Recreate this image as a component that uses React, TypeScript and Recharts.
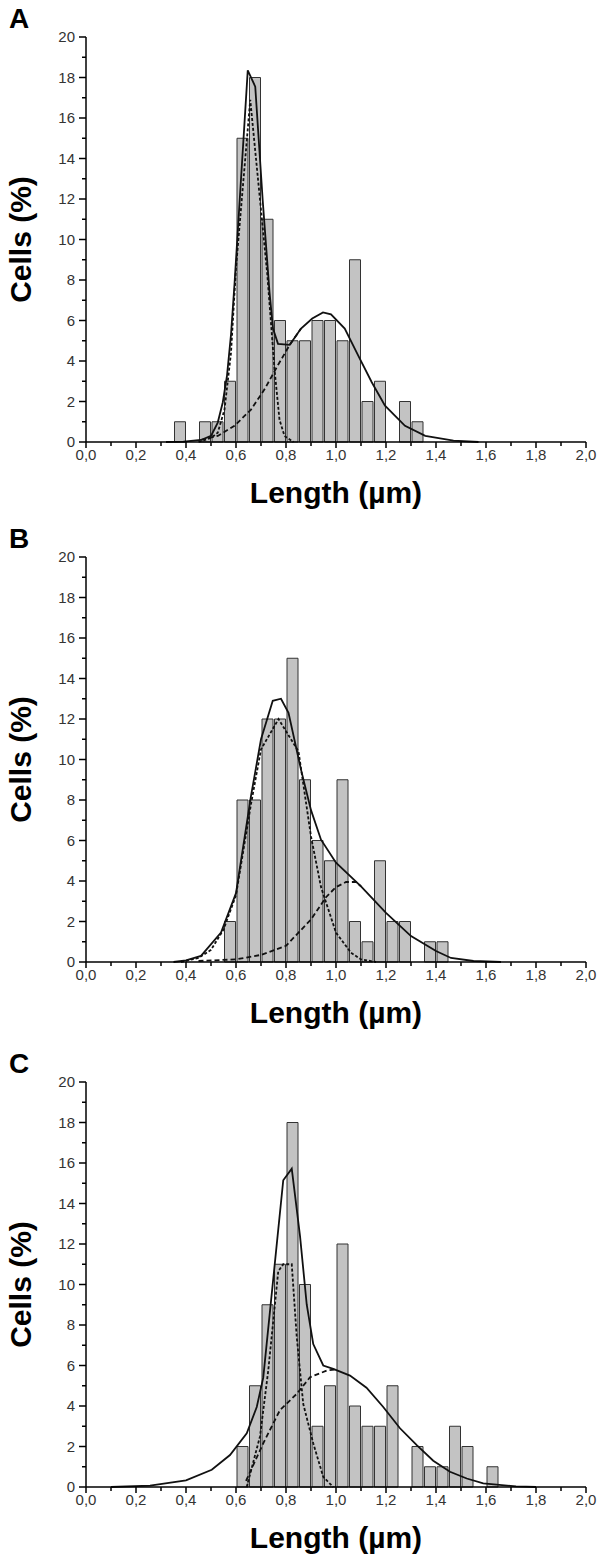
import { Bar, ComposedChart, Line, XAxis, YAxis } from "recharts"

const FONT = "'Liberation Sans', Arial, sans-serif"

const xTicks = [0, 0.1, 0.2, 0.3, 0.4, 0.5, 0.6, 0.7, 0.8, 0.9, 1, 1.1, 1.2, 1.3, 1.4, 1.5, 1.6, 1.7, 1.8, 1.9, 2]
const yTicks = [0, 1, 2, 3, 4, 5, 6, 7, 8, 9, 10, 11, 12, 13, 14, 15, 16, 17, 18, 19, 20]

// Panel A
const aBins = [0.375, 0.475, 0.525, 0.575, 0.625, 0.675, 0.725, 0.775, 0.825, 0.875, 0.925, 0.975, 1.025, 1.075, 1.125, 1.175, 1.275, 1.325]
const aCells = [1, 1, 1, 3, 15, 18, 11, 6, 5, 5, 6, 6, 5, 9, 2, 3, 2, 1]
const aFitX = [0.32, 0.39, 0.46, 0.5, 0.527, 0.547, 0.564, 0.58, 0.594, 0.647, 0.677, 0.707, 0.734, 0.748, 0.768, 0.815, 0.86, 0.905, 0.948, 0.98, 1.035, 1.089, 1.143, 1.196, 1.276, 1.357, 1.47, 1.57]
const aFit = [0, 0.02, 0.1, 0.3, 0.96, 1.95, 3.28, 5.3, 7.8, 18.35, 17.55, 11.9, 7.4, 5.6, 4.85, 4.8, 5.6, 6.1, 6.4, 6.3, 5.6, 4.27, 2.95, 1.79, 0.8, 0.3, 0.07, 0]
const aNarrowX = [0.45, 0.5, 0.527, 0.554, 0.58, 0.6, 0.657, 0.725, 0.754, 0.774, 0.794, 0.83]
const aNarrow = [0, 0.2, 0.46, 1.6, 4.4, 8.6, 16.9, 8.3, 3.6, 1.1, 0.3, 0]
const aWideX = [0.46, 0.527, 0.594, 0.66, 0.714, 0.768, 0.815, 0.86]
const aWide = [0.1, 0.3, 0.8, 1.6, 2.6, 3.8, 4.8, 5.6]

// Panel B
const bBins = [0.575, 0.625, 0.675, 0.725, 0.775, 0.825, 0.875, 0.925, 0.975, 1.025, 1.075, 1.125, 1.175, 1.225, 1.275, 1.375, 1.425]
const bCells = [2, 8, 8, 12, 12, 15, 9, 6, 5, 9, 2, 1, 5, 2, 2, 1, 1]
const bFitX = [0.35, 0.4, 0.46, 0.54, 0.6, 0.66, 0.7, 0.747, 0.78, 0.81, 0.86, 0.9, 0.94, 1.0, 1.1, 1.2, 1.3, 1.4, 1.46, 1.55, 1.66]
const bFit = [0, 0.08, 0.3, 1.45, 3.4, 8.2, 11.0, 12.9, 13.0, 12.3, 9.5, 7.5, 6.04, 4.9, 3.74, 2.43, 1.28, 0.54, 0.2, 0.05, 0]
const bNarrowX = [0.38, 0.45, 0.5, 0.55, 0.6, 0.66, 0.7, 0.77, 0.85, 0.9, 0.94, 1.0, 1.06, 1.1, 1.16]
const bNarrow = [0, 0.2, 0.6, 1.6, 3.3, 7.8, 10.5, 12.0, 10.4, 6.2, 3.7, 1.45, 0.46, 0.13, 0]
const bWideX = [0.45, 0.6, 0.7, 0.8, 0.9, 0.96, 1.0, 1.04, 1.08, 1.1]
const bWide = [0.05, 0.13, 0.35, 0.8, 2.1, 3.2, 3.7, 3.95, 3.95, 3.74]

// Panel C
const cBins = [0.625, 0.675, 0.725, 0.775, 0.825, 0.875, 0.925, 0.975, 1.025, 1.075, 1.125, 1.175, 1.225, 1.325, 1.375, 1.425, 1.475, 1.525, 1.625]
const cCells = [2, 5, 9, 11, 18, 10, 3, 5, 12, 4, 3, 3, 5, 2, 1, 1, 3, 2, 1]
const cFitX = [0.1, 0.256, 0.4, 0.503, 0.576, 0.643, 0.683, 0.709, 0.789, 0.823, 0.856, 0.883, 0.909, 0.949, 0.989, 1.056, 1.122, 1.189, 1.256, 1.323, 1.389, 1.456, 1.523, 1.589, 1.72, 1.8]
const cFit = [0, 0.07, 0.33, 0.85, 1.58, 2.65, 3.95, 5.4, 15.15, 15.72, 12.4, 9.0, 7.06, 6.0, 5.83, 5.5, 4.9, 3.95, 2.9, 2.07, 1.3, 0.75, 0.42, 0.18, 0.03, 0]
const cNarrowX = [0.643, 0.696, 0.729, 0.769, 0.789, 0.823, 0.843, 0.869, 0.909, 0.949, 0.989]
const cNarrow = [0, 2.5, 5.75, 10.65, 11.0, 11.0, 7.4, 4.1, 2.16, 0.5, 0]
const cWideX = [0.64, 0.709, 0.776, 0.843, 0.896, 0.963, 0.996]
const cWide = [0.3, 2.16, 3.8, 4.6, 5.42, 5.75, 5.8]

const toPoints = (xs: number[], ys: number[]) => xs.map((x, i) => ({ x, y: ys[i] }))

function XTick(props: any) {
  const { x, y, payload } = props
  const v = payload.value
  const major = Math.round(v * 10) % 2 === 0
  return (
    <g>
      <line x1={x} y1={y} x2={x} y2={y + (major ? 6 : 4)} stroke="#000" strokeWidth={1.5} />
      {major && (
        <text x={x} y={y + 18} textAnchor="middle" fontFamily={FONT} fontSize={15} fill="#333">
          {v.toFixed(1).replace(".", ",")}
        </text>
      )}
    </g>
  )
}

function YTick(props: any) {
  const { x, y, payload } = props
  const v = payload.value
  const major = v % 2 === 0
  return (
    <g>
      <line x1={x} y1={y} x2={x - (major ? 7 : 4)} y2={y} stroke="#000" strokeWidth={1.5} />
      {major && (
        <text x={x - 11} y={y + 5} textAnchor="end" fontFamily={FONT} fontSize={15} fill="#333">
          {v}
        </text>
      )}
    </g>
  )
}

const renderXLabel = (props: any) => {
  const vb = props.viewBox
  return (
    <text x={vb.x + vb.width / 2} y={vb.y + 61} textAnchor="middle" fontFamily={FONT} fontWeight="bold" fontSize={30} fill="#000">
      Length (µm)
    </text>
  )
}

const renderYLabel = (props: any) => {
  const vb = props.viewBox
  const cx = 20
  const cy = vb.y + vb.height / 2
  return (
    <text x={cx} y={cy} transform={`rotate(-90 ${cx} ${cy})`} textAnchor="middle" dominantBaseline="central" fontFamily={FONT} fontWeight="bold" fontSize={30} fill="#000">
      Cells (%)
    </text>
  )
}

interface PanelProps {
  letter: string
  top: number
  bins: number[]
  cells: number[]
  fitX: number[]
  fit: number[]
  narrowX: number[]
  narrow: number[]
  wideX: number[]
  wide: number[]
}

function Panel({ letter, top, bins, cells, fitX, fit, narrowX, narrow, wideX, wide }: PanelProps) {
  const barData = bins.map((x, i) => ({ x, cells: cells[i] }))

  return (
    <div style={{ position: "absolute", left: 0, top, width: 600, height: 512 }}>
      <div style={{ position: "absolute", left: 9, top: 5, fontFamily: FONT, fontWeight: "bold", fontSize: 28, lineHeight: "28px" }}>
        {letter}
      </div>
      <ComposedChart width={600} height={512} data={barData} margin={{ top: 37, right: 14, bottom: 0, left: 0 }}>
        {/* bars get their own hidden axis so the curve points don't shrink the band size */}
        <XAxis xAxisId="bars" dataKey="x" type="number" domain={[0, 2]} hide height={0} />
        <XAxis
          xAxisId="main"
          dataKey="x"
          type="number"
          domain={[0, 2]}
          ticks={xTicks}
          interval={0}
          tickSize={0}
          tickMargin={0}
          tickLine={false}
          tick={XTick}
          axisLine={{ stroke: "#000", strokeWidth: 1.5 }}
          height={70}
          label={renderXLabel}
        />
        <YAxis
          type="number"
          domain={[0, 20]}
          ticks={yTicks}
          interval={0}
          tickSize={0}
          tickMargin={0}
          tickLine={false}
          tick={YTick}
          axisLine={{ stroke: "#000", strokeWidth: 1.5 }}
          width={86}
          label={renderYLabel}
        />
        <Bar xAxisId="bars" dataKey="cells" fill="#c3c3c3" stroke="#333" strokeWidth={1} barSize={11} isAnimationActive={false} />
        <Line xAxisId="main" data={toPoints(wideX, wide)} dataKey="y" type="linear" stroke="#111" strokeWidth={1.8} strokeDasharray="5 3" dot={false} activeDot={false} isAnimationActive={false} />
        <Line xAxisId="main" data={toPoints(narrowX, narrow)} dataKey="y" type="linear" stroke="#111" strokeWidth={1.8} strokeDasharray="3 2" dot={false} activeDot={false} isAnimationActive={false} />
        <Line xAxisId="main" data={toPoints(fitX, fit)} dataKey="y" type="linear" stroke="#111" strokeWidth={1.8} dot={false} activeDot={false} isAnimationActive={false} />
      </ComposedChart>
    </div>
  )
}

export default function App() {
  return (
    <div style={{ position: "absolute", left: 0, top: 0, width: 600, height: 1560, background: "#fff" }}>
      <Panel letter="A" top={0} bins={aBins} cells={aCells} fitX={aFitX} fit={aFit} narrowX={aNarrowX} narrow={aNarrow} wideX={aWideX} wide={aWide} />
      <Panel letter="B" top={520} bins={bBins} cells={bCells} fitX={bFitX} fit={bFit} narrowX={bNarrowX} narrow={bNarrow} wideX={bWideX} wide={bWide} />
      <Panel letter="C" top={1045} bins={cBins} cells={cCells} fitX={cFitX} fit={cFit} narrowX={cNarrowX} narrow={cNarrow} wideX={cWideX} wide={cWide} />
    </div>
  )
}
